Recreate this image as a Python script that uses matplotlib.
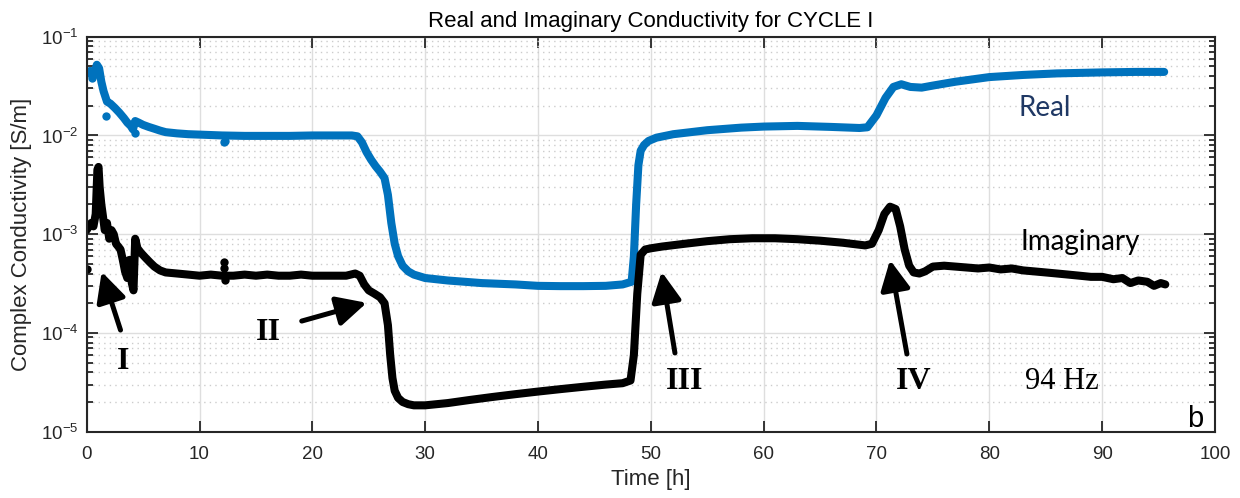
import numpy as np
import matplotlib
matplotlib.use('Agg')
import matplotlib.pyplot as plt
from matplotlib.ticker import LogLocator, NullLocator, MultipleLocator

# Datos (tiempo en horas, conductividad en S/m)
t_real = [0.0, 0.3, 0.6, 0.9, 1.1, 1.3, 1.5, 1.8, 2.1, 2.5, 2.9, 3.3, 3.6, 3.9, 4.1,
          4.3, 4.6, 5.0, 5.5, 6.0, 6.5, 7.0, 8.0, 9.0, 10.0, 12.0, 14.0, 16.0, 18.0,
          20.0, 22.0, 23.5, 24.0, 24.4, 24.8, 25.2, 25.6, 26.0, 26.4, 26.7, 27.0, 27.3,
          27.6, 28.0, 28.5, 29.0, 30.0, 32.0, 35.0, 38.0, 40.0, 42.0, 44.0, 46.0, 47.5,
          48.3, 48.5, 48.7, 48.9, 49.1, 49.4, 49.8, 50.5, 52.0, 55.0, 58.0, 60.0, 63.0,
          66.0, 68.5, 69.2, 70.0, 70.8, 71.5, 72.2, 73.0, 74.0, 75.0, 77.0, 80.0, 83.0,
          86.0, 90.0, 93.0, 95.5]
real = [0.042, 0.045, 0.040, 0.052, 0.048, 0.035, 0.028, 0.022, 0.021, 0.019, 0.017,
        0.015, 0.0135, 0.0125, 0.0115, 0.0140, 0.0135, 0.0128, 0.0122, 0.0117, 0.0112,
        0.0108, 0.0105, 0.0103, 0.0102, 0.0100, 0.0099, 0.0099, 0.0099, 0.0100, 0.0100,
        0.0100, 0.0098, 0.0085, 0.0068, 0.0057, 0.0049, 0.0043, 0.0037, 0.0025, 0.0013,
        0.0008, 0.0006, 0.00048, 0.00042, 0.00039, 0.00036, 0.00034, 0.00032, 0.00031,
        0.000300, 0.000298, 0.000298, 0.000300, 0.00031, 0.00033, 0.0006, 0.0020, 0.0050,
        0.0070, 0.0080, 0.0088, 0.0095, 0.0103, 0.0113, 0.0120, 0.0123, 0.0125, 0.0122,
        0.0119, 0.0121, 0.0160, 0.0240, 0.0310, 0.0330, 0.0310, 0.0305, 0.0320, 0.0350,
        0.0390, 0.0410, 0.0425, 0.0435, 0.0440, 0.0440]

# puntos sueltos de la parte real
t_real_pts = [0.5, 1.7, 4.3, 12.2, 12.3]
real_pts = [0.038, 0.0158, 0.0105, 0.0085, 0.0088]

t_imag = [0.0, 0.2, 0.4, 0.6, 0.8, 0.95, 1.05, 1.15, 1.3, 1.45, 1.6, 1.8, 2.0, 2.2, 2.4,
          2.6, 2.8, 3.0, 3.2, 3.4, 3.6, 3.8, 4.0, 4.15, 4.3, 4.5, 4.8, 5.2, 5.6, 6.0, 6.5,
          7.0, 8.0, 9.0, 10.0, 11.0, 12.0, 13.0, 14.0, 15.0, 16.0, 17.0, 18.0, 19.0, 20.0,
          21.0, 22.0, 23.0, 23.8, 24.2, 24.6, 25.0, 25.5, 26.0, 26.4, 26.7, 26.9, 27.1,
          27.3, 27.6, 28.0, 28.5, 29.0, 30.0, 32.0, 34.0, 36.0, 38.0, 40.0, 42.0, 44.0,
          46.0, 47.5, 48.2, 48.5, 48.8, 49.1, 49.5, 50.0, 51.0, 53.0, 55.0, 57.0, 59.0,
          61.0, 63.0, 65.0, 67.0, 69.0, 69.6, 70.2, 70.7, 71.2, 71.7, 72.1, 72.5, 72.9,
          73.3, 73.8, 74.3, 75.0, 76.0, 77.0, 78.0, 79.0, 80.0, 81.0, 82.0, 83.0, 84.0,
          85.0, 86.0, 87.0, 88.0, 89.0, 90.0, 91.0, 91.8, 92.5, 93.2, 94.0, 94.6, 95.2, 95.6]
imag = [0.0011, 0.0012, 0.0013, 0.0012, 0.0016, 0.0045, 0.0048, 0.0030, 0.0020, 0.0015,
        0.0011, 0.0013, 0.0009, 0.0011, 0.0010, 0.0008, 0.00075, 0.0007, 0.00055, 0.00042,
        0.00036, 0.00055, 0.00032, 0.00027, 0.0009, 0.00072, 0.00065, 0.00058, 0.00052,
        0.00047, 0.00043, 0.00041, 0.00040, 0.00039, 0.00038, 0.00039, 0.00038, 0.00038,
        0.00039, 0.00038, 0.00039, 0.00038, 0.00038, 0.00039, 0.00038, 0.00038, 0.00038,
        0.00038, 0.00040, 0.00038, 0.00031, 0.00027, 0.00025, 0.00023, 0.00020, 0.00012,
        6e-5, 3.5e-5, 2.6e-5, 2.2e-5, 2.0e-5, 1.9e-5, 1.85e-5, 1.85e-5, 1.95e-5, 2.1e-5,
        2.25e-5, 2.4e-5, 2.55e-5, 2.7e-5, 2.85e-5, 3.0e-5, 3.1e-5, 3.3e-5, 6e-5, 0.00025,
        0.00062, 0.00070, 0.00072, 0.00075, 0.00080, 0.00085, 0.00089, 0.00091, 0.00091,
        0.00089, 0.00086, 0.00082, 0.00077, 0.00080, 0.0011, 0.0016, 0.0019, 0.0018,
        0.0012, 0.0007, 0.00048, 0.00041, 0.00040, 0.00042, 0.00047, 0.00048, 0.00047,
        0.00046, 0.00045, 0.00046, 0.00044, 0.00045, 0.00043, 0.00042, 0.00041, 0.00040,
        0.00039, 0.00038, 0.00037, 0.00037, 0.00035, 0.00036, 0.00032, 0.00034, 0.00033,
        0.00030, 0.00032, 0.00031]

# puntos sueltos de la parte imaginaria
t_imag_pts = [0.05, 4.3, 12.2, 12.2, 12.25]
imag_pts = [0.00044, 0.00085, 0.00052, 0.00045, 0.00034]

azul = '#0072BD'
gris = '#262626'

plt.rcParams['font.family'] = ['Liberation Sans', 'DejaVu Sans']

fig = plt.figure(figsize=(12.4, 4.98), dpi=100)
ax = fig.add_axes([0.0699, 0.1331, 0.9099, 0.7932])

ax.plot(t_real, real, color=azul, lw=5.8, solid_capstyle='round', solid_joinstyle='round')
ax.plot(t_real_pts, real_pts, 'o', color=azul, ms=6, mec='none')
ax.plot(t_imag, imag, color='black', lw=5.8, solid_capstyle='round', solid_joinstyle='round')
ax.plot(t_imag_pts, imag_pts, 'o', color='black', ms=6, mec='none')

ax.set_yscale('log')
ax.set_xlim(0, 100)
ax.set_ylim(1e-5, 1e-1)
ax.xaxis.set_major_locator(MultipleLocator(10))
ax.xaxis.set_minor_locator(NullLocator())
ax.yaxis.set_major_locator(LogLocator(base=10, numticks=10))
ax.yaxis.set_minor_locator(LogLocator(base=10, subs=np.arange(2, 10), numticks=20))

# Rejilla estilo MATLAB
ax.grid(which='major', color='#dedede', lw=1, ls='-')
ax.yaxis.grid(which='minor', color='#cccccc', lw=1, ls=(0, (1, 3)))
ax.set_axisbelow(True)

ax.tick_params(which='both', direction='in', top=True, right=True, colors=gris,
               labelsize=13.5, width=1.3)
ax.tick_params(which='major', length=8)
ax.tick_params(which='minor', length=4)
ax.tick_params(axis='x', which='major', pad=10)
ax.tick_params(axis='y', which='major', pad=6)
for s in ax.spines.values():
    s.set_linewidth(1.5)
    s.set_color(gris)

ax.set_title('Real and Imaginary Conductivity for CYCLE I', fontsize=16, color='black', pad=7)
ax.set_xlabel('Time [h]', fontsize=16, color=gris)
ax.set_ylabel('Complex Conductivity [S/m]', fontsize=16, color=gris)
ax.xaxis.set_label_coords(0.5, -0.095)
ax.yaxis.set_label_coords(-0.0485, 0.5)
ax.xaxis.label.set_va('top')

# Etiquetas
ax.text(84.9, 0.0189, 'Real', fontsize=20, color='#1F3864', family=['Lato', 'DejaVu Sans'],
        ha='center', va='center')
ax.text(88.1, 8.3e-4, 'Imaginary', fontsize=20, color='black', family=['Lato', 'DejaVu Sans'],
        ha='center', va='center')

serif = ['Liberation Serif', 'DejaVu Serif']
ax.text(3.2, 5.1e-5, 'I', fontsize=23, fontweight='bold', family=serif, ha='center', va='center')
ax.text(16.1, 1.02e-4, 'II', fontsize=23, fontweight='bold', family=serif, ha='center', va='center')
ax.text(53.0, 3.26e-5, 'III', fontsize=23, fontweight='bold', family=serif, ha='center', va='center')
ax.text(73.3, 3.26e-5, 'IV', fontsize=23, fontweight='bold', family=serif, ha='center', va='center')
ax.text(86.4, 3.26e-5, '94 Hz', fontsize=22, family=serif, ha='center', va='center')
ax.text(0.99, 0.012, 'b', transform=ax.transAxes, fontsize=21, ha='right', va='baseline')

# Flechas (cola -> punta)
flechas = [((3.0, 1.07e-4), (1.33, 4.17e-4)),
           ((19.06, 1.32e-4), (24.82, 2.02e-4)),
           ((52.14, 6.27e-5), (50.96, 4.17e-4)),
           ((72.7, 6.12e-5), (71.2, 5.48e-4))]
for cola, punta in flechas:
    ax.annotate('', xy=punta, xytext=cola,
                arrowprops=dict(arrowstyle='-|>,head_length=1.0,head_width=0.5',
                                mutation_scale=18, lw=3.6, color='black',
                                shrinkA=0, shrinkB=0))

fig.savefig('out.png', dpi=100)
